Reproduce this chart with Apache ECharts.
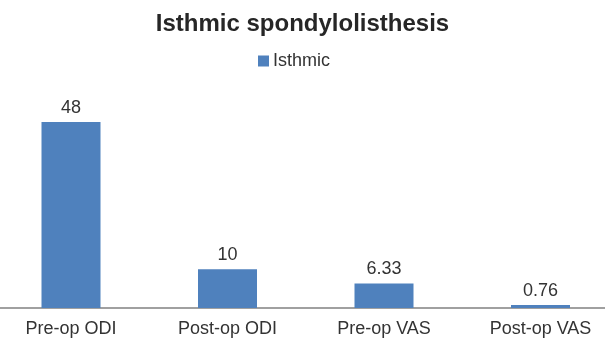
<!DOCTYPE html>
<html>
<head>
<meta charset="utf-8">
<script src="https://cdn.jsdelivr.net/npm/echarts@6/dist/echarts.min.js"></script>
<style>html,body{margin:0;padding:0;background:#fff;}#c{width:605px;height:342px;}</style>
</head>
<body>
<div id="c"></div>
<script>
var titleText = 'Isthmic spondylolisthesis';
var seriesName = 'Isthmic';
var categories = ['Pre-op ODI', 'Post-op ODI', 'Pre-op VAS', 'Post-op VAS'];
var values = [48, 10, 6.33, 0.76];

var chart = echarts.init(document.getElementById('c'), null, {renderer: 'canvas'});
chart.setOption({
  animation: false,
  backgroundColor: '#ffffff',
  title: {
    text: titleText,
    left: 'center',
    top: 7,
    textStyle: {fontFamily: 'Liberation Sans, Arial, sans-serif', fontSize: 24, fontWeight: 'bold', color: '#262626'}
  },
  legend: {
    data: [seriesName],
    top: 47,
    left: 253,
    icon: 'rect',
    itemWidth: 11,
    itemHeight: 11,
    itemGap: 10,
    textStyle: {fontFamily: 'Liberation Sans, Arial, sans-serif', fontSize: 18, color: '#333333', padding: [0, 0, 0, -1]}
  },
  grid: {left: -7.25, top: 75.5, width: 626, height: 232.5, containLabel: false, outerBoundsMode: 'none'},
  xAxis: {
    type: 'category',
    data: categories,
    axisLine: {show: true, lineStyle: {color: '#808080', width: 1.5}},
    axisTick: {show: false},
    axisLabel: {fontFamily: 'Liberation Sans, Arial, sans-serif', fontSize: 18, color: '#333333', margin: 12}
  },
  yAxis: {
    type: 'value',
    min: 0,
    max: 60,
    show: false,
    splitLine: {show: false}
  },
  series: [{
    name: seriesName,
    type: 'bar',
    data: values,
    barWidth: 59,
    itemStyle: {color: '#4f81bd'},
    label: {
      show: true,
      position: 'top',
      distance: 5,
      fontFamily: 'Liberation Sans, Arial, sans-serif',
      fontSize: 18,
      color: '#333333'
    }
  }]
});
</script>
</body>
</html>
